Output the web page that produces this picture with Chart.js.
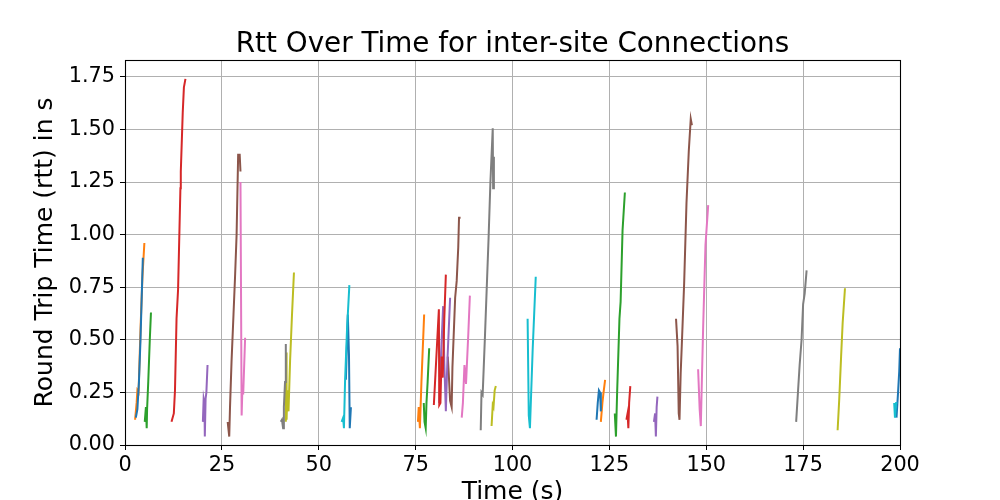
<!DOCTYPE html>
<html lang="en">
<head>
    <meta charset="UTF-8">
    <title>Rtt Over Time</title>
    <script src="https://cdn.jsdelivr.net/npm/chart.js@4.4.0/dist/chart.umd.min.js"></script>
    <style>
        html, body { margin: 0; padding: 0; background: #fff; overflow: hidden; }
        canvas { display: block; }
    </style>
</head>
<body>
    <canvas id="rttChart" width="1000" height="500"></canvas>

    <script>
        // one entry per connection, times in s, rtt in s
        const connTimes = [
            [2.8, 3.2, 3.6, 4.0, 4.6],
            [2.6, 3.0, 3.2, 3.5, 4.0, 4.5, 5.0],
            [5.1, 5.4, 5.6, 5.7, 6.0, 6.4, 6.7],
            [12.0, 12.6, 12.9, 13.3, 13.7, 14.3, 14.4, 14.9, 15.2, 15.6],
            [20.1, 20.3, 20.5, 20.6, 20.8, 21.0, 21.3],
            [26.5, 26.9, 27.1, 27.5, 28.0, 28.4, 28.8, 29.2, 29.6, 29.8],
            [29.8, 30.1, 30.3, 30.5, 31.0],
            [40.2, 40.5, 40.8, 41.0, 41.3, 41.5],
            [41.5, 41.6, 41.7, 41.9, 42.2, 42.6, 43.1, 43.6],
            [55.9, 56.3, 56.5, 56.8, 57.3, 57.9],
            [57.0, 57.5, 57.8, 58.0, 58.3],
            [75.6, 75.8, 76.1, 76.5, 77.2],
            [77.1, 77.3, 77.6, 77.8, 78.1, 78.5],
            [79.7, 80.3, 81.0, 81.1, 81.4, 81.7, 82.0, 82.4, 82.8],
            [81.1, 81.6, 82.1, 82.4, 82.8, 83.2, 83.9],
            [83.3, 83.6, 83.9, 84.3, 84.5, 85.2, 85.6, 86.0, 86.2, 86.6],
            [86.9, 87.2, 87.6, 88.0, 88.6, 89.0],
            [91.8, 92.0, 92.3, 92.9, 93.8, 94.3, 94.9, 95.0, 95.2],
            [94.6, 94.9, 95.1, 95.4, 95.7],
            [103.9, 104.2, 104.5, 105.2, 106.0],
            [121.7, 122.0, 122.3, 122.6, 122.8],
            [122.8, 123.2, 123.5, 123.9],
            [126.4, 126.7, 127.0, 127.6, 127.9, 128.4, 128.6, 129.0],
            [129.4, 129.7, 129.9, 130.1, 130.4],
            [136.5, 136.8, 137.0, 137.2, 137.4],
            [142.2, 142.6, 142.9, 143.1, 143.4, 143.7, 144.3, 144.9, 145.5, 146.0, 146.3],
            [147.9, 148.3, 148.6, 148.9, 149.2, 149.8, 150.5],
            [173.2, 173.7, 174.1, 174.6, 175.0, 175.4, 175.9],
            [183.9, 184.3, 184.8, 185.2, 185.8],
            [198.5, 198.7, 199.0, 199.3],
            [199.1, 199.5, 199.8, 200.0]
        ];
        const connRtts = [
            [0.13, 0.17, 0.30, 0.50, 0.89],
            [0.12, 0.20, 0.26, 0.25, 0.55, 0.80, 0.96],
            [0.11, 0.18, 0.08, 0.17, 0.30, 0.50, 0.63],
            [0.11, 0.15, 0.26, 0.60, 0.74, 1.22, 1.30, 1.58, 1.70, 1.74],
            [0.11, 0.22, 0.20, 0.04, 0.22, 0.25, 0.38],
            [0.11, 0.04, 0.18, 0.40, 0.62, 0.80, 1.00, 1.38, 1.38, 1.30],
            [1.25, 0.14, 0.27, 0.24, 0.51],
            [0.11, 0.12, 0.08, 0.18, 0.30, 0.48],
            [0.11, 0.44, 0.12, 0.26, 0.16, 0.40, 0.62, 0.82],
            [0.11, 0.13, 0.08, 0.31, 0.55, 0.76],
            [0.31, 0.62, 0.43, 0.08, 0.18],
            [0.11, 0.18, 0.08, 0.30, 0.62],
            [0.20, 0.11, 0.08, 0.20, 0.30, 0.46],
            [0.19, 0.40, 0.645, 0.19, 0.20, 0.42, 0.32, 0.60, 0.81],
            [0.20, 0.45, 0.66, 0.39, 0.16, 0.40, 0.70],
            [0.42, 0.32, 0.21, 0.18, 0.37, 0.70, 0.78, 0.94, 1.08, 1.08],
            [0.13, 0.20, 0.38, 0.29, 0.53, 0.71],
            [0.07, 0.25, 0.24, 0.52, 0.97, 1.25, 1.505, 1.22, 1.37],
            [0.09, 0.19, 0.18, 0.26, 0.28],
            [0.60, 0.14, 0.08, 0.45, 0.80],
            [0.12, 0.20, 0.26, 0.25, 0.16],
            [0.11, 0.20, 0.25, 0.31],
            [0.15, 0.04, 0.25, 0.60, 0.68, 1.02, 1.08, 1.20],
            [0.12, 0.15, 0.08, 0.20, 0.28],
            [0.11, 0.15, 0.04, 0.18, 0.23],
            [0.60, 0.47, 0.15, 0.12, 0.34, 0.48, 0.77, 1.15, 1.40, 1.55, 1.52],
            [0.36, 0.17, 0.09, 0.33, 0.56, 0.95, 1.14],
            [0.11, 0.26, 0.38, 0.50, 0.67, 0.72, 0.83],
            [0.07, 0.21, 0.42, 0.58, 0.745],
            [0.20, 0.13, 0.20, 0.20],
            [0.13, 0.25, 0.35, 0.46]
        ];
        const palette = ['#1f77b4', '#ff7f0e', '#2ca02c', '#d62728', '#9467bd',
                         '#8c564b', '#e377c2', '#7f7f7f', '#bcbd22', '#17becf'];
        const xTicks = [0, 25, 50, 75, 100, 125, 150, 175, 200];
        const yTicks = [0, 0.25, 0.5, 0.75, 1.0, 1.25, 1.5, 1.75];
        const chartTitle = 'Rtt Over Time for inter-site Connections';

        const datasets = connTimes.map((times, i) => ({
            label: 'conn ' + i,
            data: times.map((t, j) => ({x: t, y: connRtts[i][j]})),
            showLine: true,
            borderColor: palette[i % palette.length],
            backgroundColor: palette[i % palette.length],
            borderWidth: 2,
            pointRadius: 0,
            tension: 0
        }));

        const font = 'DejaVu Sans';

        // black box around the plot area and the title centred over it
        const frame = {
            id: 'frame',
            afterDatasetsDraw(chart) {
                const a = chart.chartArea;
                const ctx = chart.ctx;
                ctx.save();
                ctx.strokeStyle = '#000';
                ctx.lineWidth = 1.1;
                ctx.strokeRect(Math.round(a.left) + 0.5, Math.round(a.top) + 0.5,
                               Math.round(a.right - a.left), Math.round(a.bottom - a.top));
                ctx.fillStyle = '#000';
                ctx.font = '27.8px "' + font + '"';
                ctx.textAlign = 'center';
                ctx.textBaseline = 'alphabetic';
                ctx.fillText(chartTitle, (a.left + a.right) / 2, a.top - 8);
                ctx.restore();
            }
        };

        new Chart(document.getElementById('rttChart').getContext('2d'), {
            type: 'scatter',
            data: { datasets: datasets },
            plugins: [frame],
            options: {
                responsive: false,
                animation: false,
                devicePixelRatio: 1,
                layout: { padding: { left: 0, right: 100, top: 60, bottom: 0 } },
                plugins: {
                    legend: { display: false },
                    tooltip: { enabled: false },
                    title: { display: false }
                },
                scales: {
                    x: {
                        type: 'linear',
                        min: 0,
                        max: 200,
                        afterBuildTicks: s => { s.ticks = xTicks.map(v => ({value: v})); },
                        afterFit: s => { s.height = 55; },
                        grid: { color: '#b0b0b0', lineWidth: 1, tickColor: '#000', tickLength: 5 },
                        border: { display: false },
                        ticks: {
                            color: '#000',
                            padding: 3,
                            maxRotation: 0,
                            font: { family: font, size: 20.8 },
                            callback: v => String(v)
                        },
                        title: {
                            display: true,
                            text: 'Time (s)',
                            color: '#000',
                            font: { family: font, size: 25 },
                            padding: { top: 0, bottom: -7 }
                        }
                    },
                    y: {
                        type: 'linear',
                        min: 0,
                        max: 1.83,
                        afterBuildTicks: s => { s.ticks = yTicks.map(v => ({value: v})); },
                        afterFit: s => { s.width = 125; },
                        grid: { color: '#b0b0b0', lineWidth: 1, tickColor: '#000', tickLength: 5 },
                        border: { display: false },
                        ticks: {
                            color: '#000',
                            padding: 5,
                            font: { family: font, size: 20.8 },
                            callback: v => v.toFixed(2)
                        },
                        title: {
                            display: true,
                            text: 'Round Trip Time (rtt) in s',
                            color: '#000',
                            font: { family: font, size: 25 },
                            padding: { top: 30, bottom: 0 }
                        }
                    }
                }
            }
        });
    </script>
</body>
</html>
